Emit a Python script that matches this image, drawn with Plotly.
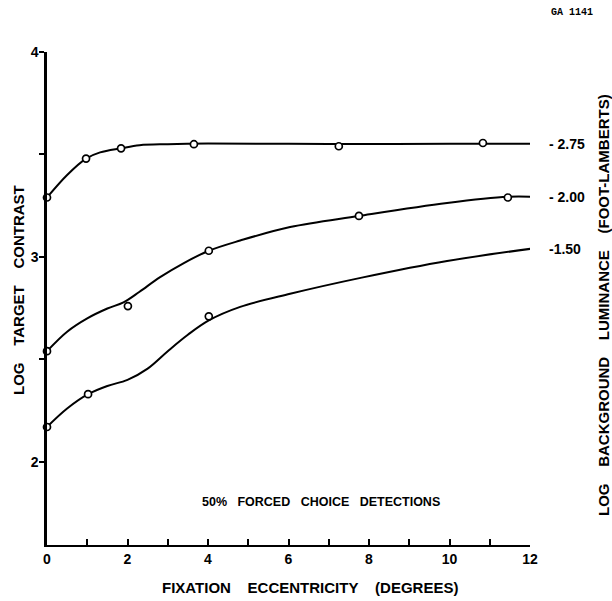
import plotly.graph_objects as go

# Measured data points (fixation eccentricity in degrees, log target contrast)
pts_275_x = [0, 0.97, 1.84, 3.65, 7.25, 10.83]
pts_275_y = [3.29, 3.48, 3.53, 3.55, 3.54, 3.556]
pts_200_x = [0, 2.01, 4.02, 7.75, 11.45]
pts_200_y = [2.54, 2.76, 3.03, 3.20, 3.29]
pts_150_x = [0, 1.02, 4.02, 12.03]
pts_150_y = [2.17, 2.33, 2.71, 3.04]

# Hand-drawn fitted curves
cur_275_x = [0, 0.5, 0.97, 1.32, 1.84, 2.3, 3.0, 4.0, 6.0, 8.0, 10.0, 12.05]
cur_275_y = [3.29, 3.40, 3.48, 3.51, 3.53, 3.545, 3.55, 3.553, 3.552, 3.551, 3.552, 3.552]
cur_200_x = [0, 0.5, 1.0, 1.5, 1.9, 2.3, 2.8, 3.4, 4.02, 4.8, 6.04, 7.75, 9.94, 11.45, 12.05]
cur_200_y = [2.54, 2.635, 2.70, 2.748, 2.778, 2.83, 2.90, 2.97, 3.03, 3.08, 3.146, 3.20, 3.263, 3.293, 3.293]
cur_150_x = [0, 0.5, 1.02, 1.5, 2.0, 2.5, 3.0, 3.5, 4.02, 4.8, 6.04, 7.85, 9.94, 12.03]
cur_150_y = [2.17, 2.26, 2.33, 2.37, 2.40, 2.455, 2.54, 2.62, 2.69, 2.756, 2.82, 2.90, 2.98, 3.04]

curve_labels = ["- 2.75", "- 2.00", "-1.50"]
curve_label_y = [3.552, 3.293, 3.04]

FONT = "Liberation Sans"
SP = "&nbsp;"
fig = go.Figure()

for cx, cy in [(cur_275_x, cur_275_y), (cur_200_x, cur_200_y), (cur_150_x, cur_150_y)]:
    fig.add_trace(go.Scatter(x=cx, y=cy, mode="lines",
                             line=dict(color="black", width=2, shape="spline", smoothing=1.0),
                             showlegend=False, hoverinfo="skip", cliponaxis=False))

for px, py in [(pts_275_x, pts_275_y), (pts_200_x, pts_200_y), (pts_150_x, pts_150_y)]:
    fig.add_trace(go.Scatter(x=px, y=py, mode="markers",
                             marker=dict(symbol="circle", size=7, color="white", line=dict(color="black", width=1.7)),
                             showlegend=False, cliponaxis=False))

for lab, ly in zip(curve_labels, curve_label_y):
    fig.add_annotation(x=12, y=ly, xref="x", yref="y", text=lab, showarrow=False, xanchor="left",
                       yanchor="middle", xshift=17, font=dict(family=FONT, size=14, color="black", weight="bold"))

fig.add_annotation(x=6.8, y=1.805, xref="x", yref="y",
                   text=(SP * 3).join(["50%", "FORCED", "CHOICE", "DETECTIONS"]), showarrow=False,
                   font=dict(family=FONT, size=12.5, color="black", weight="bold"))

W, H = 612, 601
L, R, T, B = 47, 82, 52, 56
pw, ph = W - L - R, H - T - B


def px2paper(x, y):
    return (x - L) / pw, 1 - (y - T) / ph


fig.update_layout(
    width=W, height=H,
    margin=dict(l=L, r=R, t=T, b=B),
    paper_bgcolor="white", plot_bgcolor="white",
    font=dict(family=FONT, color="black"),
    xaxis=dict(range=[0, 12], tickvals=[0, 2, 4, 6, 8, 10, 12], ticks="inside", ticklen=6, tickwidth=1.5,
               tickcolor="black", showline=True, linecolor="black", linewidth=2, showgrid=False, zeroline=False,
               tickfont=dict(family=FONT, size=14, color="black", weight="bold"),
               minor=dict(dtick=1, ticks="inside", ticklen=6, tickwidth=1.5, tickcolor="black", showgrid=False)),
    yaxis=dict(range=[1.594, 4.0], tickvals=[2, 3, 4], ticks="outside", ticklen=5, tickwidth=1.5,
               tickcolor="black", showline=True, linecolor="black", linewidth=2.5, showgrid=False, zeroline=False,
               ticklabelstandoff=-2,
               tickfont=dict(family=FONT, size=14, color="black", weight="bold"),
               minor=dict(tickvals=[2.5, 3.5], ticks="outside", ticklen=5, tickwidth=1.5, tickcolor="black",
                          showgrid=False)),
)

x0, y0 = px2paper(310, 587)
fig.add_annotation(x=x0, y=y0, xref="paper", yref="paper", xanchor="center", yanchor="middle",
                   text=(SP * 4).join(["FIXATION", "ECCENTRICITY", "(DEGREES)"]),
                   showarrow=False, font=dict(family=FONT, size=15, color="black", weight="bold"))
x1, y1 = px2paper(18, 290)
fig.add_annotation(x=x1, y=y1, xref="paper", yref="paper", xanchor="center", yanchor="middle",
                   text=(SP * 4).join(["LOG", "TARGET", "CONTRAST"]), textangle=-90,
                   showarrow=False, font=dict(family=FONT, size=15, color="black", weight="bold"))
x2, y2 = px2paper(603, 305)
fig.add_annotation(x=x2, y=y2, xref="paper", yref="paper", xanchor="center", yanchor="middle",
                   text=(SP * 4).join(["LOG", "BACKGROUND", "LUMINANCE", "(FOOT-LAMBERTS)"]),
                   textangle=-90, showarrow=False, font=dict(family=FONT, size=15, color="black", weight="bold"))
x3, y3 = px2paper(572, 13)
fig.add_annotation(x=x3, y=y3, xref="paper", yref="paper", xanchor="center", yanchor="middle",
                   text="GA 1141", showarrow=False,
                   font=dict(family="Liberation Mono", size=10, color="black", weight="bold"))

fig.write_html("out.html")
